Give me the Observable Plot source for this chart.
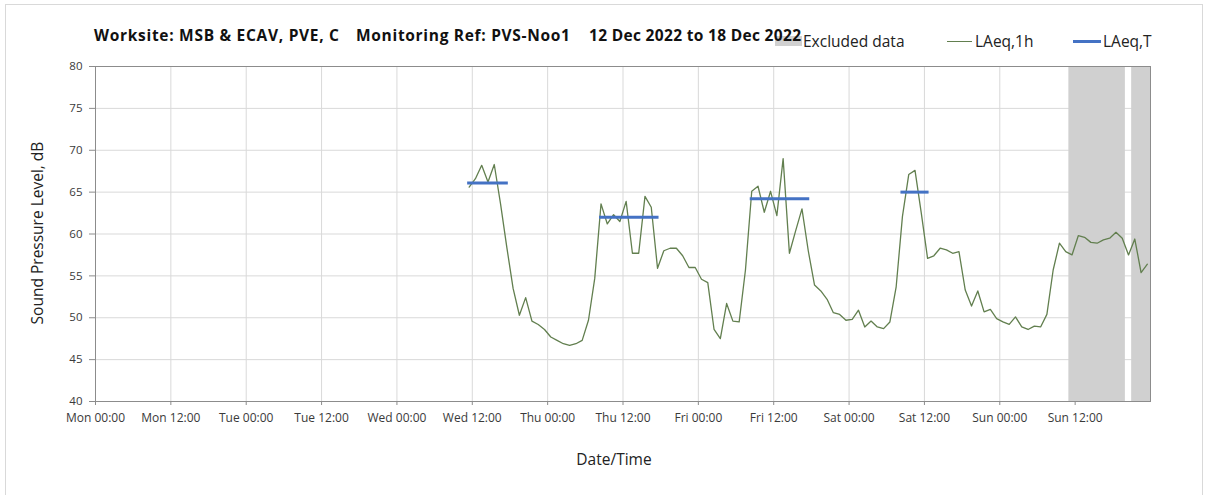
<!DOCTYPE html>
<html>
<head>
<meta charset="utf-8">
<script src="https://cdn.jsdelivr.net/npm/d3@7"></script>
<script src="https://cdn.jsdelivr.net/npm/@observablehq/plot@0.6"></script>
<style>
  html, body { margin: 0; padding: 0; background: #fff; }
  #wrap { position: relative; width: 1208px; height: 495px; overflow: hidden; font-family: "Open Sans", sans-serif; background: #fff; }
  #border { position: absolute; left: 5px; top: 4px; width: 1198px; height: 520px; border: 1px solid #d9d9d9; box-sizing: border-box; z-index: 2; pointer-events: none; }
  #chart { position: absolute; left: 0; top: 0; z-index: 1; }
  .title { position: absolute; top: 25px; font-weight: 700; font-size: 15.5px; line-height: 20px; color: #111; white-space: nowrap; z-index: 4; }
  .leg { position: absolute; top: 30px; font-size: 15.5px; line-height: 22px; color: #222; white-space: nowrap; z-index: 3; }
  .sw { position: absolute; z-index: 3; }
  .axtitle { position: absolute; font-size: 15.5px; color: #222; white-space: nowrap; z-index: 3; }
</style>
</head>
<body>
<div id="wrap">
  <div id="border"></div>
  <div id="chart"></div>
</div>
<script>
// ---- data ----
const titleParts = ["Worksite: MSB & ECAV, PVE, C", "Monitoring Ref: PVS-Noo1", "12 Dec 2022 to 18 Dec 2022"];
const legendLabels = ["Excluded data", "LAeq,1h", "LAeq,T"];
const xAxisTitle = "Date/Time";
const yAxisTitle = "Sound Pressure Level, dB";

const xDomain = ["2022-12-12T00:00", "2022-12-19T00:00"];
const yDomain = [40, 80];
const yTicks = [40, 45, 50, 55, 60, 65, 70, 75, 80];

const tickTimes = ["2022-12-12T00:00", "2022-12-12T12:00", "2022-12-13T00:00", "2022-12-13T12:00",
  "2022-12-14T00:00", "2022-12-14T12:00", "2022-12-15T00:00", "2022-12-15T12:00",
  "2022-12-16T00:00", "2022-12-16T12:00", "2022-12-17T00:00", "2022-12-17T12:00",
  "2022-12-18T00:00", "2022-12-18T12:00"];
const tickLabels = ["Mon 00:00", "Mon 12:00", "Tue 00:00", "Tue 12:00", "Wed 00:00", "Wed 12:00",
  "Thu 00:00", "Thu 12:00", "Fri 00:00", "Fri 12:00", "Sat 00:00", "Sat 12:00", "Sun 00:00", "Sun 12:00"];

// hourly LAeq,1h values, first one at Wed 11:30, one per hour
const laeq1hStart = "2022-12-14T11:30";
const laeq1hValues = [
  65.6, 66.6, 68.2, 66.2, 68.3, 63.6, 58.4, 53.5, 50.3, 52.4,
  49.6, 49.2, 48.6, 47.7, 47.3, 46.9, 46.7, 46.9, 47.3, 49.7,
  54.7, 63.6, 61.2, 62.3, 61.5, 63.9, 57.7, 57.7, 64.5, 63.2,
  55.9, 58.0, 58.3, 58.3, 57.4, 56.0, 56.0, 54.6, 54.2, 48.6,
  47.5, 51.7, 49.6, 49.5, 55.7, 65.1, 65.7, 62.6, 65.1, 62.2,
  69.0, 57.7, 60.4, 63.0, 58.0, 53.9, 53.2, 52.2, 50.6, 50.4,
  49.7, 49.8, 50.9, 48.9, 49.6, 48.9, 48.7, 49.5, 53.7, 62.1,
  67.1, 67.6, 62.5, 57.1, 57.4, 58.3, 58.1, 57.7, 57.9, 53.3,
  51.4, 53.2, 50.7, 51.0, 49.9, 49.5, 49.2, 50.1, 48.9, 48.6,
  49.0, 48.9, 50.4, 55.7, 58.9, 57.9, 57.5, 59.8, 59.6, 59.0,
  58.9, 59.3, 59.5, 60.2, 59.5, 57.5, 59.4, 55.4, 56.4
];

// LAeq,T periods
const periodStarts = ["2022-12-14T11:30", "2022-12-15T08:30", "2022-12-16T08:30", "2022-12-17T08:30"];
const periodEnds   = ["2022-12-14T17:30", "2022-12-15T17:30", "2022-12-16T17:30", "2022-12-17T12:30"];
const periodValues = [66.1, 62.0, 64.2, 65.0];

// excluded data periods
const excludedStarts = ["2022-12-18T11:00", "2022-12-18T21:00"];
const excludedEnds   = ["2022-12-18T20:00", "2022-12-19T00:00"];

// ---- build ----
const parse = s => new Date(s);
const t0 = parse(laeq1hStart);
const lineData = laeq1hValues.map((v, i) => ({ t: d3.timeHour.offset(t0, i), v }));
const periods = periodValues.map((v, i) => ({ a: parse(periodStarts[i]), b: parse(periodEnds[i]), v }));
const excluded = excludedStarts.map((s, i) => ({ a: parse(s), b: parse(excludedEnds[i]) }));
const ticks = tickTimes.map(parse);
const labelOf = new Map(ticks.map((d, i) => [+d, tickLabels[i]]));

const W = 1208, H = 495, mL = 95, mR = 58, mT = 66, mB = 94;

const chart = Plot.plot({
  width: W, height: H,
  marginLeft: mL, marginRight: mR, marginTop: mT, marginBottom: mB,
  style: { fontFamily: "'Open Sans', sans-serif", color: "#3a3a3a", background: "transparent" },
  x: { type: "time", domain: xDomain.map(parse) },
  y: { domain: yDomain },
  marks: [
    Plot.gridX(ticks, { stroke: "#d9d9d9", strokeOpacity: 1 }),
    Plot.gridY(yTicks, { stroke: "#d9d9d9", strokeOpacity: 1 }),
    Plot.rect(excluded, { x1: "a", x2: "b", fill: "#d0d0d0" }),
    Plot.frame({ stroke: "#8c8c8c" }),
    Plot.axisX(ticks, { tickFormat: d => labelOf.get(+d), tickSize: 4, tickPadding: 8, fontSize: 12, stroke: "#8c8c8c", label: null }),
    Plot.axisY(yTicks, { tickSize: 6, tickPadding: 7, fontSize: 11.5, stroke: "#8c8c8c", label: null }),
    Plot.line(lineData, { x: "t", y: "v", stroke: "#627f4f", strokeWidth: 1.3 }),
    Plot.ruleY(periods, { y: "v", x1: "a", x2: "b", stroke: "#4472c4", strokeWidth: 3, strokeLinecap: "square" })
  ]
});
document.getElementById("chart").appendChild(chart);

const wrap = document.getElementById("wrap");
function addDiv(cls, text, css) {
  const d = document.createElement("div");
  d.className = cls;
  if (text != null) d.textContent = text;
  Object.assign(d.style, css);
  wrap.appendChild(d);
  return d;
}
// title pieces, fitted to the reference widths with letter spacing
function fitTitle(text, left, right) {
  const d = addDiv("title", text, { left: left + "px" });
  const w = d.getBoundingClientRect().width;
  const n = Math.max(1, text.length - 1);
  d.style.letterSpacing = ((right - left - w) / n) + "px";
  return d;
}
fitTitle(titleParts[0], 94, 339);
fitTitle(titleParts[1], 356, 570);
fitTitle(titleParts[2], 589, 801);
// legend
addDiv("sw", null, { left: "775px", top: "36px", width: "27px", height: "10px", background: "#d0d0d0" });
addDiv("leg", legendLabels[0], { left: "803px" });
addDiv("sw", null, { left: "947px", top: "40.5px", width: "25px", height: "1.3px", background: "#627f4f" });
addDiv("leg", legendLabels[1], { left: "975px" });
addDiv("sw", null, { left: "1073px", top: "39.5px", width: "28px", height: "3px", background: "#4472c4" });
addDiv("leg", legendLabels[2], { left: "1103px" });
// axis titles
addDiv("axtitle", xAxisTitle, { left: "614px", top: "459px", transform: "translate(-50%,-50%)" });
addDiv("axtitle", yAxisTitle, { left: "37px", top: "233px", transform: "translate(-50%,-50%) rotate(-90deg)" });
</script>
</body>
</html>
